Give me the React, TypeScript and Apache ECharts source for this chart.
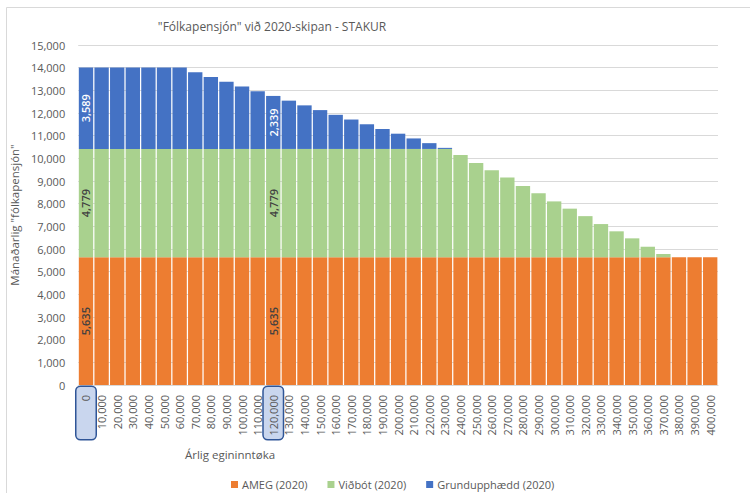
import React, { useEffect, useRef } from "react";
import * as echarts from "echarts";

const categories = [
  0, 10000, 20000, 30000, 40000, 50000, 60000, 70000, 80000, 90000, 100000,
  110000, 120000, 130000, 140000, 150000, 160000, 170000, 180000, 190000, 200000,
  210000, 220000, 230000, 240000, 250000, 260000, 270000, 280000, 290000, 300000,
  310000, 320000, 330000, 340000, 350000, 360000, 370000, 380000, 390000, 400000,
];

const amegValues = [
  5635, 5635, 5635, 5635, 5635, 5635, 5635, 5635, 5635, 5635, 5635,
  5635, 5635, 5635, 5635, 5635, 5635, 5635, 5635, 5635, 5635,
  5635, 5635, 5635, 5635, 5635, 5635, 5635, 5635, 5635, 5635,
  5635, 5635, 5635, 5635, 5635, 5635, 5635, 5635, 5635, 5635,
];

const vidbotValues = [
  4779, 4779, 4779, 4779, 4779, 4779, 4779, 4779, 4779, 4779, 4779,
  4779, 4779, 4779, 4779, 4779, 4779, 4779, 4779, 4779, 4779,
  4779, 4779, 4779, 4515, 4155, 3835, 3515, 3145, 2825, 2465,
  2145, 1815, 1465, 1145, 835, 465, 145, 0, 0, 0,
];

const grundValues = [
  3589, 3589, 3589, 3589, 3589, 3589, 3589, 3381, 3173, 2964, 2756,
  2548, 2339, 2131, 1923, 1714, 1506, 1298, 1089, 881, 673,
  464, 256, 48, 0, 0, 0, 0, 0, 0, 0,
  0, 0, 0, 0, 0, 0, 0, 0, 0, 0,
];

const labelledCategories = [0, 120000];
const highlightedTicks = ["0", "120,000"];

const FONT = "'Open Sans', sans-serif";
const fmt = (v: number) => v.toLocaleString("en-US");

export default function App() {
  const ref = useRef<HTMLDivElement>(null);

  useEffect(() => {
    if (!ref.current) return;
    const chart = echarts.init(ref.current, undefined, { renderer: "svg" });

    const makeData = (vals: number[], labelColor: string) =>
      vals.map((v, i) =>
        labelledCategories.includes(categories[i])
          ? {
              value: v,
              label: {
                show: true,
                position: "inside",
                rotate: 90,
                formatter: (p: any) => fmt(p.value),
                color: labelColor,
                fontSize: 11,
                fontWeight: 600,
                fontFamily: FONT,
              },
            }
          : v
      );

    const barCommon = {
      type: "bar",
      stack: "total",
      barCategoryGap: "8%",
      emphasis: { disabled: true },
    };

    chart.setOption({
      animation: false,
      backgroundColor: "#ffffff",
      textStyle: { fontFamily: FONT },
      title: [
        {
          text: '"Fólkapensjón" við 2020-skipan - STAKUR',
          left: 267,
          top: 15,
          textAlign: "center",
          textStyle: { fontSize: 12, fontWeight: "normal", color: "#595959", fontFamily: FONT },
        },
        {
          text: "Árlig egininntøka",
          left: 225,
          top: 443,
          textAlign: "center",
          textStyle: { fontSize: 11.5, fontWeight: "normal", color: "#595959", fontFamily: FONT },
        },
      ],
      legend: {
        left: 226,
        top: 474,
        icon: "rect",
        itemWidth: 7,
        itemHeight: 7,
        itemGap: 20,
        textStyle: { fontSize: 11, color: "#595959", fontFamily: FONT, padding: [0, 0, 0, -1] },
        data: ["AMEG (2020)", "Viðbót (2020)", "Grundupphædd (2020)"],
      },
      grid: { left: 76, right: 32, top: 45, bottom: 108, containLabel: false },
      xAxis: {
        type: "category",
        data: categories.map(fmt),
        axisTick: { show: false },
        axisLine: { show: true, lineStyle: { color: "#d9d9d9" } },
        axisLabel: {
          interval: 0,
          rotate: 90,
          margin: 2,
          fontSize: 11,
          color: "#595959",
          fontFamily: FONT,
          formatter: (v: string) =>
            highlightedTicks.includes(v) ? `{hl|${v}}` : `{n|${v}}`,
          rich: {
            n: {
              fontSize: 11,
              color: "#595959",
              fontFamily: FONT,
              padding: [4, 8, 4, 5],
            },
            hl: {
              fontSize: 11,
              color: "#595959",
              fontFamily: FONT,
              width: 39,
              align: "right",
              backgroundColor: "#c9d6ee",
              borderColor: "#2f5597",
              borderWidth: 1.5,
              borderRadius: 4,
              padding: [4, 8, 4, 5],
            },
          },
        },
      },
      yAxis: {
        type: "value",
        min: 0,
        max: 15000,
        interval: 1000,
        name: 'Mánaðarlig "fólkapensjón"',
        nameLocation: "middle",
        nameRotate: 90,
        nameGap: 56,
        nameTextStyle: { fontSize: 11.5, color: "#595959", fontFamily: FONT },
        axisLine: { show: false },
        axisTick: { show: false },
        axisLabel: {
          margin: 13,
          fontSize: 11,
          color: "#595959",
          fontFamily: FONT,
          formatter: (v: number) => fmt(v),
        },
        splitLine: { lineStyle: { color: "#d9d9d9" } },
      },
      series: [
        {
          ...barCommon,
          name: "AMEG (2020)",
          itemStyle: { color: "#ed7d31" },
          data: makeData(amegValues, "#404040"),
        },
        {
          ...barCommon,
          name: "Viðbót (2020)",
          itemStyle: { color: "#a9d18e" },
          data: makeData(vidbotValues, "#404040"),
        },
        {
          ...barCommon,
          name: "Grundupphædd (2020)",
          itemStyle: { color: "#4472c4" },
          data: makeData(grundValues, "#ffffff"),
        },
      ],
      graphic: [
        {
          type: "rect",
          silent: true,
          shape: { x: 6.5, y: 7.5, width: 900, height: 900 },
          style: { fill: "none", stroke: "#d9d9d9", lineWidth: 1 },
        },
      ],
    });

    return () => chart.dispose();
  }, []);

  return (
    <div
      ref={ref}
      style={{ position: "fixed", left: 0, top: 0, width: 750, height: 493 }}
    />
  );
}
